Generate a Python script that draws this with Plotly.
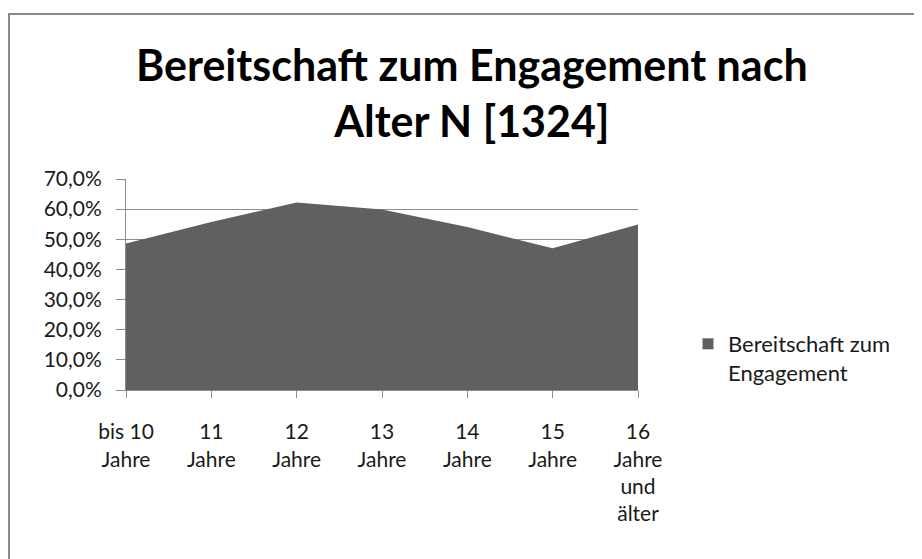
import plotly.graph_objects as go

categories = ["bis 10<br>Jahre", "11<br>Jahre", "12<br>Jahre", "13<br>Jahre",
              "14<br>Jahre", "15<br>Jahre", "16<br>Jahre<br>und<br>älter"]
values = [48.6, 55.7, 62.2, 59.9, 54.1, 47.0, 54.9]
series_name = "Bereitschaft zum<br>Engagement"
title_text = "Bereitschaft zum Engagement nach<br>Alter N [1324]"

# page offset of the plotly div (default body margin)
OFF = 8
W, H = 922, 559
L = 126 - OFF
T = 179 - OFF
R = W - (638 - OFF)
B = H - (390 - OFF)
FILL = "#606060"
GRID = "#8c8c8c"
FONT = "Lato"

fig = go.Figure()
fig.add_trace(go.Scatter(
    x=categories, y=values, mode="none", fill="tozeroy",
    fillcolor=FILL, showlegend=False, hoverinfo="x+y",
))
fig.add_trace(go.Scatter(
    x=[None], y=[None], mode="markers", name=series_name,
    marker=dict(symbol="square", size=11, color=FILL),
))

pw = W - L - R
ph = H - T - B
def px_x(page_x):
    return (page_x - OFF - L) / pw
def px_y(page_y):
    return (H - B - (page_y - OFF)) / ph

border = dict(color="#898989", width=2)

fig.update_layout(
    width=W, height=H,
    margin=dict(l=L, r=R, t=T, b=B),
    paper_bgcolor="white", plot_bgcolor="white",
    separators=",.",
    font=dict(family=FONT, size=20, color="#1a1a1a"),
    xaxis=dict(
        type="category", range=[0, 6], showgrid=False,
        showline=True, linecolor=GRID, linewidth=1,
        ticks="outside", ticklen=7, tickcolor=GRID,
        tickfont=dict(family=FONT, size=21, color="#1a1a1a"),
        ticklabelstandoff=16,
        fixedrange=True,
    ),
    yaxis=dict(
        range=[0, 70], dtick=10, tickformat=".1f", ticksuffix="%",
        showgrid=True, gridcolor=GRID, gridwidth=1,
        showline=True, linecolor=GRID, linewidth=1,
        ticks="outside", ticklen=9, tickcolor=GRID,
        tickfont=dict(family=FONT, size=21, color="#1a1a1a"),
        ticklabelstandoff=10,
        zeroline=False, fixedrange=True,
    ),
    legend=dict(
        x=px_x(688), y=px_y(323), xanchor="left", yanchor="top",
        font=dict(family=FONT, size=22, color="#1a1a1a"),
        itemwidth=30, valign="top", bgcolor="rgba(0,0,0,0)",
    ),
    annotations=[dict(
        text=title_text, xref="paper", yref="paper",
        x=px_x(472), y=px_y(92), xanchor="center", yanchor="middle",
        showarrow=False, align="center",
        font=dict(family=FONT, size=43, color="black", weight="bold"),
    )],
    shapes=[
        dict(type="line", xref="paper", yref="paper",
             x0=px_x(9), x1=px_x(9), y0=px_y(14), y1=px_y(600),
             line=border, layer="below"),
        dict(type="line", xref="paper", yref="paper",
             x0=px_x(8), x1=px_x(960), y0=px_y(14), y1=px_y(14),
             line=border, layer="below"),
    ],
)

fig.write_html("out.html")
